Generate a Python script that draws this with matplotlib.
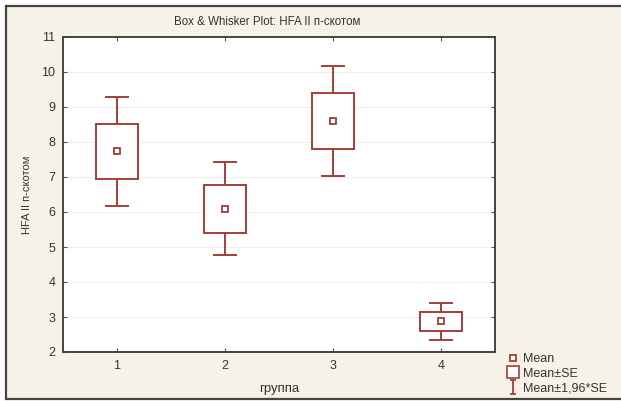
import matplotlib
matplotlib.use("Agg")
import matplotlib.pyplot as plt
from matplotlib.lines import Line2D
from matplotlib.patches import Rectangle
from matplotlib.path import Path

groups = [1, 2, 3, 4]
group_labels = ["1", "2", "3", "4"]
means = [7.73, 6.09, 8.59, 2.88]
se = [0.79, 0.68, 0.80, 0.27]
yticks = [2, 3, 4, 5, 6, 7, 8, 9, 10, 11]

RED = "#a33f38"
BEIGE = "#f7f2e8"
INK = "#333333"

plt.rcParams["font.family"] = ["Liberation Sans", "DejaVu Sans"]

fig = plt.figure(figsize=(6.21, 4.01), dpi=100, facecolor="white")
frame = Rectangle((6 / 621, 2 / 401), 1.0, 393 / 401, transform=fig.transFigure,
                  facecolor=BEIGE, edgecolor="#444444", linewidth=1.6, zorder=-5)
fig.add_artist(frame)

ax = fig.add_axes([63 / 621, 49 / 401, 432 / 621, 315 / 401])
ax.set_facecolor("white")

ci = [1.96 * s for s in se]
ax.errorbar(groups, means, yerr=ci, fmt="none", ecolor=RED, elinewidth=1.4,
            capsize=8.3, capthick=1.4, zorder=2)
ax.bar(groups, [2 * s for s in se], bottom=[m - s for m, s in zip(means, se)],
       width=0.39, facecolor="white", edgecolor=RED, linewidth=1.4, zorder=3)
ax.plot(groups, means, ls="none", marker="s", ms=4, mfc="white", mec=RED, mew=1.3, zorder=4)

ax.set_xlim(0.5, 4.5)
ax.set_ylim(2, 11)
ax.set_xticks(groups, group_labels)
ax.set_yticks(yticks)
ax.grid(axis="y", color="#eeeeee", linewidth=0.8)
ax.set_axisbelow(True)
ax.tick_params(direction="in", length=3, width=0.8, color="#555555", labelsize=9,
               labelcolor=INK, top=True, right=True, pad=5.5)
for sp in ax.spines.values():
    sp.set_color("#444444")
    sp.set_linewidth(1.4)

ax.set_xlabel("группа", fontsize=9.5, color=INK, labelpad=8)
ax.set_ylabel("HFA II п-скотом", fontsize=8, color=INK, labelpad=7)
fig.text(267 / 621, 1 - 22 / 401, "Box & Whisker Plot: HFA II п-скотом", ha="center", va="center",
         fontsize=8.3, color=INK)

ibar = Path([(-0.5, -1), (0.5, -1), (0, -1), (0, 1), (-0.5, 1), (0.5, 1)],
            [Path.MOVETO, Path.LINETO, Path.MOVETO, Path.LINETO, Path.MOVETO, Path.LINETO])
handles = [
    Line2D([], [], ls="none", marker="s", ms=4, mfc="white", mec=RED, mew=1.3),
    Line2D([], [], ls="none", marker="s", ms=8, mfc="white", mec=RED, mew=1.2),
    Line2D([], [], ls="none", marker=ibar, ms=10, mec=RED, mew=1.3),
]
fig.legend(handles, ["Mean", "Mean±SE", "Mean±1,96*SE"], loc="upper left",
           bbox_to_anchor=(500 / 621, 1 - 347 / 401), frameon=False, fontsize=9,
           handlelength=1.0, handletextpad=0.3, labelspacing=0.2, borderpad=0,
           labelcolor=INK)

fig.savefig("out.png", dpi=100, facecolor="white")
